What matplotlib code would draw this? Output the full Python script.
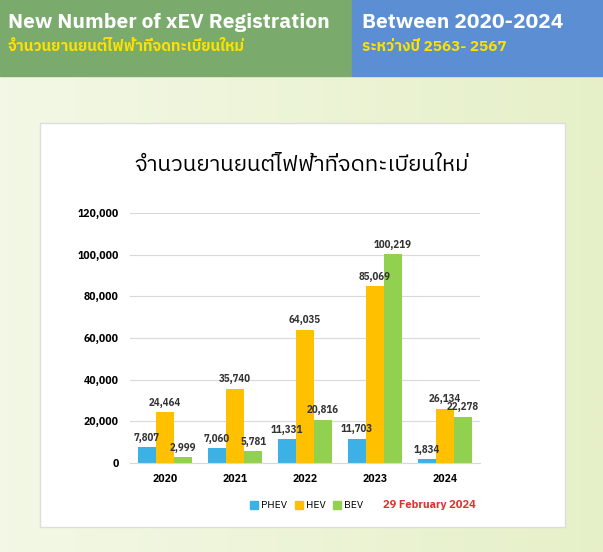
import matplotlib
matplotlib.use("Agg")
import matplotlib.pyplot as plt
from matplotlib.patches import Rectangle
import numpy as np
from matplotlib import font_manager

years = ["2020", "2021", "2022", "2023", "2024"]
phev = [7807, 7060, 11331, 11703, 1834]
hev = [24464, 35740, 64035, 85069, 26134]
bev = [2999, 5781, 20816, 100219, 22278]
series_names = ["PHEV", "HEV", "BEV"]
colors = ["#3cb1e6", "#ffc000", "#92d050"]

thai = [f.name for f in font_manager.fontManager.ttflist if "Thai" in f.name]
fam = thai + ["Noto Sans", "DejaVu Sans"]
plt.rcParams["font.family"] = fam

W, H = 603, 552
fig = plt.figure(figsize=(W/100, H/100), dpi=100)
bg = fig.add_axes([0, 0, 1, 1]); bg.set_xlim(0, W); bg.set_ylim(H, 0); bg.axis("off")
grad = np.linspace(0, 1, 256).reshape(1, -1)
bg.imshow(grad, extent=[0, W, H, 0], cmap=matplotlib.colors.LinearSegmentedColormap.from_list("g", ["#f3f8e6", "#e6f0c8"]), aspect="auto")
bg.add_patch(Rectangle((0, 0), 352, 76, color="#7aaa6c"))
bg.add_patch(Rectangle((352, 0), 251, 76, color="#5b8ed2"))
bg.text(8, 22, "New Number of xEV Registration", color="white", fontsize=15, fontweight="bold", va="center")
bg.text(8, 47, "จำนวนยานยนต์ไฟฟ้าที่จดทะเบียนใหม่", color="#ffe000", fontsize=11, fontweight="bold", va="center")
bg.text(362, 22, "Between 2020-2024", color="white", fontsize=15, fontweight="bold", va="center")
bg.text(362, 47, "ระหว่างปี 2563- 2567", color="#ffe000", fontsize=11, fontweight="bold", va="center")
bg.add_patch(Rectangle((40, 123), 525, 404, facecolor="white", edgecolor="#dddddd"))
bg.text(302, 165, "จำนวนยานยนต์ไฟฟ้าที่จดทะเบียนใหม่", fontsize=16, ha="center", va="center")
bg.text(476, 505, "29 February 2024", color="#e03030", fontsize=8, fontweight="bold", ha="right", va="center")
for i, (n, c) in enumerate(zip(series_names, colors)):
    x0 = 250 + i*45 if i < 2 else 333
    x0 = [250, 295, 333][i]
    bg.add_patch(Rectangle((x0, 501), 8, 8, color=c))
    bg.text(x0 + 11, 505, n, fontsize=7.5, va="center")

ax = fig.add_axes([130/W, 1-463/H, 350/W, 250/H])
ax.set_facecolor("none")
x = np.arange(len(years))
w = 0.26
for off, vals, c in zip([-w, 0, w], [phev, hev, bev], colors):
    bars = ax.bar(x + off, vals, w, color=c)
    for b, v in zip(bars, vals):
        ax.text(b.get_x() + b.get_width()/2, v + 2000, f"{v:,}", ha="center", va="bottom", fontsize=7, fontweight="bold", color="#333333")
ax.set_ylim(0, 120000); ax.set_xlim(-0.5, 4.5)
ax.set_yticks(range(0, 120001, 20000))
ax.set_yticklabels([f"{v:,}" for v in range(0, 120001, 20000)], fontsize=7.5, fontweight="bold")
ax.set_xticks(x); ax.set_xticklabels(years, fontsize=7.5, fontweight="bold")
ax.grid(axis="y", color="#d9d9d9", lw=0.8); ax.set_axisbelow(True)
for s in ["top", "right", "left"]: ax.spines[s].set_visible(False)
ax.spines["bottom"].set_color("#d9d9d9")
ax.tick_params(length=0, pad=8)
fig.savefig("out.png", dpi=100)
